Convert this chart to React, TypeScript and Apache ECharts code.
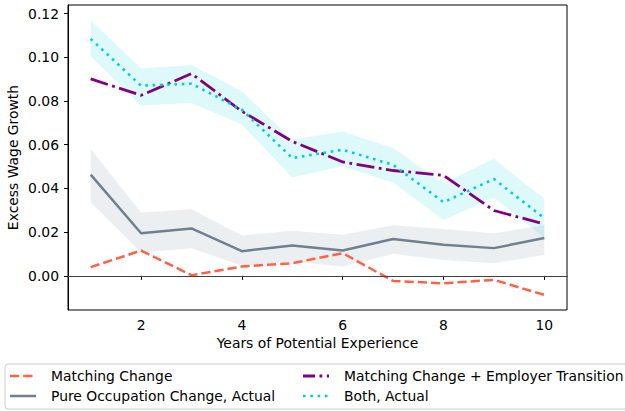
import React, { useEffect, useRef } from "react";
import * as echarts from "echarts";

const years = [1, 2, 3, 4, 5, 6, 7, 8, 9, 10];
const matchingChange = [0.004, 0.0116, 0.0003, 0.0043, 0.0058, 0.0104, -0.0023, -0.0034, -0.0018, -0.0087];
const matchingEmployer = [0.0901, 0.0826, 0.0925, 0.0753, 0.0615, 0.0521, 0.0482, 0.046, 0.0299, 0.0237];
const pureOcc = [0.0463, 0.0195, 0.0217, 0.0113, 0.0139, 0.0116, 0.0169, 0.0142, 0.0127, 0.0173];
const pureOccUpper = [0.058, 0.029, 0.0305, 0.0185, 0.0206, 0.0188, 0.0232, 0.0214, 0.0195, 0.0232];
const pureOccLower = [0.0337, 0.0107, 0.0127, 0.0046, 0.0066, 0.0043, 0.0101, 0.0073, 0.0058, 0.0096];
const bothActual = [0.1084, 0.087, 0.0879, 0.076, 0.0539, 0.0577, 0.0508, 0.0337, 0.0443, 0.0264];
const bothUpper = [0.1169, 0.0948, 0.0965, 0.0844, 0.0623, 0.066, 0.0585, 0.0424, 0.0536, 0.0353];
const bothLower = [0.1005, 0.0779, 0.0791, 0.0692, 0.045, 0.0501, 0.0427, 0.0256, 0.0359, 0.0173];

const xTicks = [2, 4, 6, 8, 10];
const yTicks = [0, 0.02, 0.04, 0.06, 0.08, 0.1, 0.12];

const legendNames = [
  "Matching Change",
  "Pure Occupation Change, Actual",
  "Matching Change + Employer Transition",
  "Both, Actual",
];

const FONT = "DejaVu Sans";
const FS = 13.9;
const C_ORANGE = "#FF6347";
const C_GREY = "#708090";
const C_PURPLE = "#800080";
const C_CYAN = "#00CED1";

const pairs = (ys: number[]) => years.map((x, i) => [x, ys[i]]);

export default function App() {
  const ref = useRef<HTMLDivElement>(null);
  useEffect(() => {
    document.body.style.margin = "0";
    if (!ref.current) return;
    const chart = echarts.init(ref.current, null, { renderer: "svg" });
    const band = (name: string, hi: number[], lo: number[], color: string) => ({
      type: "custom",
      name,
      silent: true,
      z: 1,
      data: years.map((x, i) => [x, lo[i], hi[i]]),
      encode: { x: 0, y: [1, 2] },
      renderItem: (params: any, api: any) => {
        if (params.dataIndex !== 0) return null;
        const top = years.map((x, i) => api.coord([x, hi[i]]));
        const bottom = years.map((x, i) => api.coord([x, lo[i]])).reverse();
        return {
          type: "polygon",
          shape: { points: top.concat(bottom) },
          style: { fill: color, stroke: "none" },
        };
      },
    });
    const legendHandle = (x: number, y: number, color: string, width: number, dash: number[] | null) => ({
      type: "line",
      shape: { x1: x, y1: y, x2: x + 26, y2: y },
      style: { stroke: color, lineWidth: width, lineDash: dash || undefined },
    });
    const legendText = (x: number, y: number, text: string) => ({
      type: "text",
      x,
      y,
      style: { text, font: `${FS}px "${FONT}"`, fill: "#000", verticalAlign: "middle" },
    });
    chart.setOption({
      animation: false,
      textStyle: { fontFamily: FONT },
      grid: {
        left: 68,
        right: 58,
        top: 5,
        bottom: 101,
        show: true,
        borderColor: "#000",
        borderWidth: 1,
        containLabel: false,
        outerBoundsMode: "none",
      },
      xAxis: {
        type: "value",
        min: 0.55,
        max: 10.45,
        name: "Years of Potential Experience",
        nameLocation: "middle",
        nameGap: 26,
        nameMoveOverlap: false,
        nameTextStyle: { fontFamily: FONT, fontSize: FS, color: "#000" },
        axisLine: { show: true, lineStyle: { color: "#000", width: 1 } },
        axisTick: { show: true, length: 4, customValues: xTicks, lineStyle: { color: "#000" } },
        axisLabel: {
          customValues: xTicks,
          margin: 8,
          fontFamily: FONT,
          fontSize: FS,
          color: "#000",
          formatter: (v: number) => String(v),
        },
        splitLine: { show: false },
      },
      yAxis: {
        type: "value",
        min: -0.0156,
        max: 0.1239,
        name: "Excess Wage Growth",
        nameLocation: "middle",
        nameGap: 48,
        nameMoveOverlap: false,
        nameTextStyle: { fontFamily: FONT, fontSize: FS, color: "#000" },
        axisLine: { show: true, onZero: false, lineStyle: { color: "#000", width: 1 } },
        axisTick: { show: true, length: 4, customValues: yTicks, lineStyle: { color: "#000" } },
        axisLabel: {
          customValues: yTicks,
          margin: 9,
          fontFamily: FONT,
          fontSize: FS,
          color: "#000",
          formatter: (v: number) => v.toFixed(2),
        },
        splitLine: { show: false },
      },
      series: [
        band("occBand", pureOccUpper, pureOccLower, "rgba(112,128,144,0.13)"),
        band("bothBand", bothUpper, bothLower, "rgba(0,206,209,0.13)"),
        {
          type: "line",
          name: legendNames[0],
          data: pairs(matchingChange),
          symbol: "none",
          z: 3,
          lineStyle: { color: C_ORANGE, width: 2.5, type: [9.25, 4] },
          markLine: {
            silent: true,
            symbol: "none",
            label: { show: false },
            lineStyle: { color: "#404040", width: 1, type: "solid" },
            data: [{ yAxis: 0 }],
          },
        },
        {
          type: "line",
          name: legendNames[1],
          data: pairs(pureOcc),
          symbol: "none",
          z: 3,
          lineStyle: { color: C_GREY, width: 2.5, type: "solid" },
        },
        {
          type: "line",
          name: legendNames[2],
          data: pairs(matchingEmployer),
          symbol: "none",
          z: 3,
          lineStyle: { color: C_PURPLE, width: 2.8, type: [18, 4.5, 2.8, 4.5] },
        },
        {
          type: "line",
          name: legendNames[3],
          data: pairs(bothActual),
          symbol: "none",
          z: 3,
          lineStyle: { color: C_CYAN, width: 2.6, type: [2.6, 4.7] },
        },
      ],
      graphic: [
        {
          type: "rect",
          shape: { x: 5, y: 364, width: 700, height: 45, r: 3 },
          style: { fill: "rgba(255,255,255,0.8)", stroke: "#cccccc", lineWidth: 1 },
        },
        legendHandle(10, 376, C_ORANGE, 2.5, [9.25, 4]),
        legendText(51, 376, legendNames[0]),
        legendHandle(10, 396, C_GREY, 2.5, null),
        legendText(51, 396, legendNames[1]),
        legendHandle(303, 376, C_PURPLE, 2.8, [12, 4.5, 2.8, 4.5]),
        legendText(344, 376, legendNames[2]),
        legendHandle(303, 396, C_CYAN, 2.6, [2.6, 4.7]),
        legendText(344, 396, legendNames[3]),
      ],
    });
    return () => chart.dispose();
  }, []);
  return <div ref={ref} style={{ width: 625, height: 411 }} />;
}
